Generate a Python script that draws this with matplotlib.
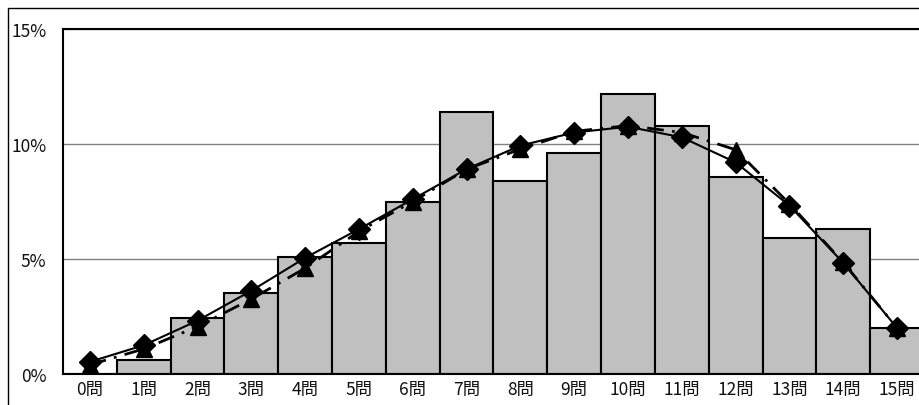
import numpy as np
import matplotlib
matplotlib.use("Agg")
import matplotlib.pyplot as plt
from matplotlib.patches import Rectangle
from matplotlib.ticker import FuncFormatter

plt.rcParams['font.family'] = ['Noto Sans CJK JP', 'DejaVu Sans']

# 正答数ごとの割合 (%)
labels = ["%d問" % i for i in range(16)]
bar_vals = [0.0, 0.62, 2.43, 3.51, 5.1, 5.7, 7.49, 11.4, 8.4, 9.6,
            12.17, 10.8, 8.58, 5.91, 6.29, 2.01]
diamond_vals = [0.53, 1.25, 2.32, 3.62, 5.05, 6.3, 7.6, 8.91, 9.93, 10.5,
                10.75, 10.29, 9.2, 7.32, 4.83, 2.0]
triangle_vals = [0.4, 1.09, 2.06, 3.26, 4.6, 6.2, 7.5, 8.9, 9.78, 10.55,
                 10.8, 10.5, 9.75, 7.4, 4.85, 2.0]

fig = plt.figure(figsize=(9.2, 4.06), dpi=100)
# 外枠
fig.patches.append(Rectangle((8 / 920, -0.1), 1.1, 1 - 9 / 406 + 0.1,
                             transform=fig.transFigure, fill=False,
                             edgecolor="black", linewidth=1.0))

ax = fig.add_axes([63 / 920, 1 - 375 / 406, 861 / 920, 345 / 406])
x = np.arange(len(labels))
ax.bar(x, bar_vals, width=1.0, color="#c0c0c0", edgecolor="black",
       linewidth=1.5, zorder=2)
ax.plot(x, triangle_vals, color="black", linestyle=(0, (6, 3, 1, 3)),
        linewidth=2, marker="^", markersize=11, zorder=3)
ax.plot(x, diamond_vals, color="black", linestyle="-", linewidth=1.5,
        marker="D", markersize=11, zorder=4)

ax.set_xlim(-0.5, 15.5)
ax.set_ylim(0, 15)
ax.set_yticks([0, 5, 10, 15])
ax.yaxis.set_major_formatter(FuncFormatter(lambda v, p: "%d%%" % v))
ax.set_xticks(x)
ax.set_xticklabels(labels)
ax.tick_params(length=0, labelsize=12.5, colors="#111111")
ax.tick_params(axis="y", pad=12)
ax.tick_params(axis="x", pad=4)
ax.grid(axis="y", color="#808080", linewidth=1.0, zorder=1)
ax.set_axisbelow(True)
for s in ax.spines.values():
    s.set_linewidth(1.5)
    s.set_color("black")

fig.savefig("out.png", dpi=100)
